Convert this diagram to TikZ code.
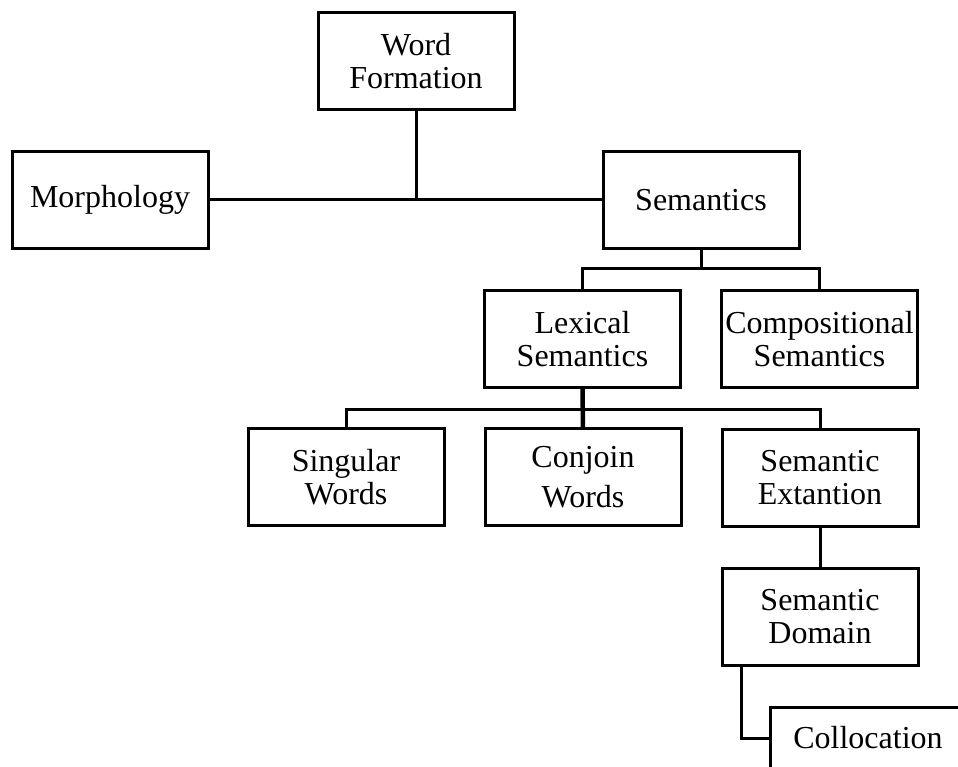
\documentclass[tikz,border=0pt]{standalone}
\usepackage{fontspec}
\setmainfont{Liberation Serif}
\begin{document}
\begin{tikzpicture}[x=1pt,y=-1pt,
  box/.style={draw,line width=3pt,minimum width=196pt,minimum height=97pt,
    inner sep=0pt,outer sep=0pt,align=center,
    font=\fontsize{32}{33}\selectfont},
  link/.style={line width=3pt},
  thicklink/.style={line width=4.5pt}]
\useasboundingbox (0,0) rectangle (958,767);
\clip (0,0) rectangle (958,767);
\fill[white] (0,0) rectangle (958,767);
\node[box] (wf) at (416,61.5) {Word\\Formation};
\node[box] (morph) at (110,200) {Morphology};
\node[box] (sem) at (701,200) {Semantics};
\node[box] (lex) at (582.5,339) {Lexical\\Semantics};
\node[box] (comp) at (819.5,339) {Compositional\\Semantics};
\node[box] (sing) at (346,477) {Singular\\Words};
\node[box] (conj) at (583,477) {Conjoin\\[7pt]Words};
\node[box] (ext) at (820,478) {Semantic\\Extantion};
\node[box] (dom) at (820,616.5) {Semantic\\Domain};
\node[box,minimum height=62pt] (coll) at (868,738) {Collocation};
% connectors
\coordinate (j1) at (416,200);
\draw[link] (morph.east) -- (sem.west);
\draw[link] (wf.south) -- (j1);
\coordinate (j2) at (701,269);
\draw[link] (sem.south) -- (j2);
\draw[link] (lex.north) |- (j2) -| (comp.north);
\coordinate (j3) at (583,409);
\draw[thicklink] (lex.south) -- (conj.north);
\draw[link] (sing.north) |- (j3) -| (ext.north);
\draw[link] (ext.south) -- (dom.north);
\coordinate (d1) at (741,666);
\draw[link] (d1) |- (coll.west);
\end{tikzpicture}
\end{document}
